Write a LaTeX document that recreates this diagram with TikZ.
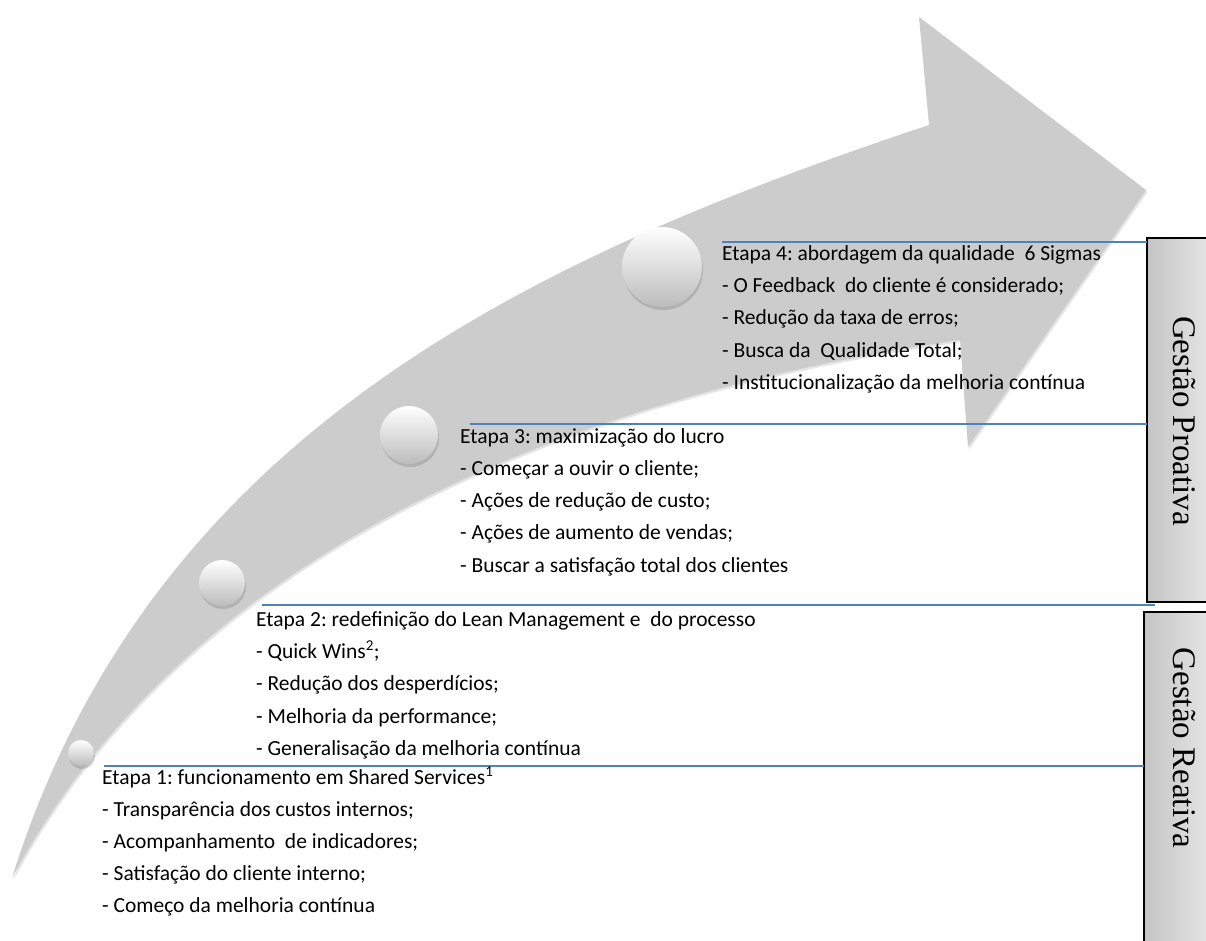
\documentclass[tikz,border=0pt]{standalone}
\usepackage{fontspec}
\setmainfont{Carlito}
\newfontfamily\rotserif{Liberation Serif}
\usetikzlibrary{shadows}
\definecolor{arrowgray}{RGB}{204,204,204}
\definecolor{arrowshade}{RGB}{150,150,150}
\definecolor{lineblue}{RGB}{79,129,189}
\definecolor{ballbottom}{RGB}{188,188,188}
\definecolor{boxleft}{RGB}{196,196,196}
\definecolor{boxright}{RGB}{232,232,232}
\frenchspacing
\begin{document}
\begin{tikzpicture}[x=1pt,y=-1pt,
  txt/.style={anchor=base west, inner sep=0pt, font=\fontsize{21.5}{25}\selectfont},
  ball/.style={circle, inner sep=0pt, top color=white, bottom color=ballbottom,
    drop shadow={shadow xshift=1pt, shadow yshift=-3pt, opacity=0.35}},
  sep/.style={draw=lineblue, line width=1.7pt},
  phase/.style={draw=black, line width=1.6pt, left color=boxleft, right color=boxright},
  phasetext/.style={rotate=-90, font=\rotserif\fontsize{33}{37}\selectfont, inner sep=0pt}]
\useasboundingbox (0,0) rectangle (1206,940);
\clip (0,0) rectangle (1206,940);
\fill[white] (0,0) rectangle (1206,940);

\def\arrowshape{(12,878) .. controls (152,430) and (539,255) .. (929,125)
  -- (919,17) -- (1146,190) -- (968,447) -- (960,340)
  .. controls (600,392) and (196,536) .. (12,878) -- cycle}

% arrow shadow and body
\fill[arrowshade, opacity=0.25, shift={(1.5,2)}] \arrowshape;
\fill[arrowgray] \arrowshape;

% milestone balls
\node[ball, minimum size=26pt] (b1) at (81,753) {};
\node[ball, minimum size=46pt] (b2) at (222,583) {};
\node[ball, minimum size=58pt] (b3) at (409,435) {};
\node[ball, minimum size=80pt] (b4) at (662,267) {};

% phase boxes
\draw[phase] (1147,238) rectangle (1215,602);
\draw[phase] (1144,612) rectangle (1215,950);
\node[phasetext] (gp) at (1184,421) {Gestão Proativa};
\node[phasetext] (gr) at (1184,748) {Gestão Reativa};

% separators
\coordinate (s4a) at (722,242); \coordinate (s4b) at (1147,242);
\coordinate (s3a) at (470,424); \coordinate (s3b) at (1147,424);
\coordinate (s2a) at (262,605); \coordinate (s2b) at (1155,605);
\coordinate (s1a) at (104,766); \coordinate (s1b) at (1144,766);
\draw[sep] (s4a) -- (s4b);
\draw[sep] (s3a) -- (s3b);
\draw[sep] (s2a) -- (s2b);
\draw[sep] (s1a) -- (s1b);

% Etapa 4
\node[txt] (e4a) at (722,260) {Etapa 4: abordagem da qualidade\ \ 6 Sigmas};
\node[txt] (e4b) at (722,292.5) {- O Feedback\ \ do cliente é considerado;};
\node[txt] (e4c) at (722,324.5) {- Redução da taxa de erros;};
\node[txt] (e4d) at (722,357) {- Busca da\ \ Qualidade Total;};
\node[txt] (e4e) at (722,389) {- Institucionalização da melhoria contínua};

% Etapa 3
\node[txt] (e3a) at (460,443) {Etapa 3: maximização do lucro};
\node[txt] (e3b) at (460,475) {- Começar a ouvir o cliente;};
\node[txt] (e3c) at (460,507) {- Ações de redução de custo;};
\node[txt] (e3d) at (460,539.5) {- Ações de aumento de vendas;};
\node[txt] (e3e) at (460,572) {- Buscar a satisfação total dos clientes};

% Etapa 2
\node[txt] (e2a) at (256,626) {Etapa 2: redefinição do Lean Management e\ \ do processo};
\node[txt] (e2b) at (256,658) {- Quick Wins\textsuperscript{2};};
\node[txt] (e2c) at (256,690.5) {- Redução dos desperdícios;};
\node[txt] (e2d) at (256,723) {- Melhoria da performance;};
\node[txt] (e2e) at (256,755) {- Generalisação da melhoria contínua};

% Etapa 1
\node[txt] (e1a) at (102,784) {Etapa 1: funcionamento em Shared Services\textsuperscript{1}};
\node[txt] (e1b) at (102,816) {- Transparência dos custos internos;};
\node[txt] (e1c) at (102,848) {- Acompanhamento\ \ de indicadores;};
\node[txt] (e1d) at (102,880) {- Satisfação do cliente interno;};
\node[txt] (e1e) at (102,912) {- Começo da melhoria contínua};
\end{tikzpicture}
\end{document}
